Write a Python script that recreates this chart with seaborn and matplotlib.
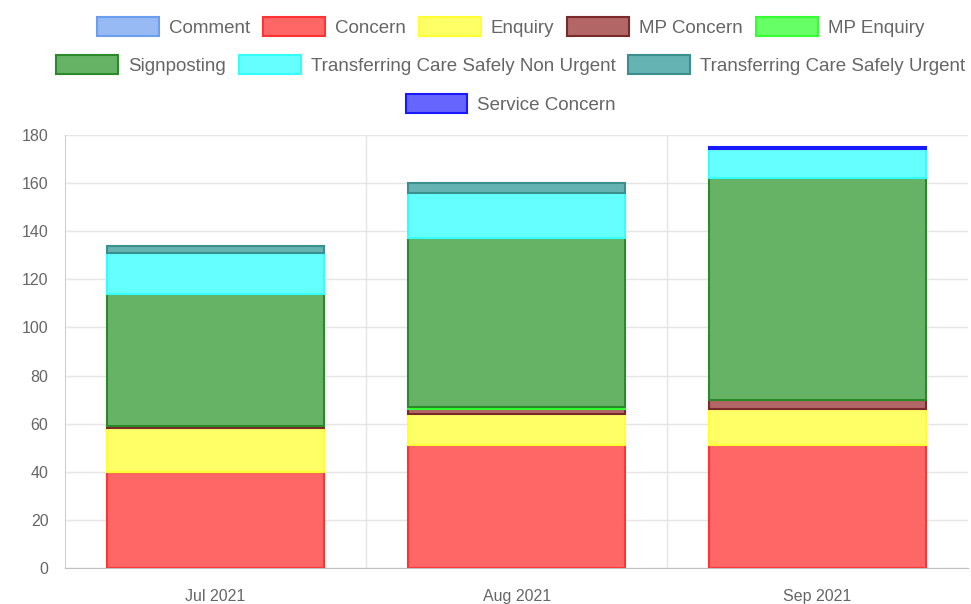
import numpy as np
import pandas as pd
import matplotlib
matplotlib.use('Agg')
import matplotlib.pyplot as plt
import seaborn as sns

months = ['Jul 2021', 'Aug 2021', 'Sep 2021']
series = ['Comment', 'Concern', 'Enquiry', 'MP Concern', 'MP Enquiry',
          'Signposting', 'Transferring Care Safely Non Urgent',
          'Transferring Care Safely Urgent', 'Service Concern']
comment = [0, 0, 0]
concern = [40, 51, 51]
enquiry = [18, 13, 15]
mp_concern = [1, 2, 4]
mp_enquiry = [0, 1, 0]
signposting = [55, 70, 92]
tcs_non_urgent = [17, 19, 12]
tcs_urgent = [3, 4, 0]
service_concern = [0, 0, 1]

fills = ['#97baf5', '#ff6666', '#ffff66', '#b36666', '#66ff66',
         '#66b366', '#66ffff', '#66b3b3', '#6666ff']
edges = ['#6c9ef0', '#ff3333', '#ffff33', '#7a2a2a', '#33ff33',
         '#2a8a2a', '#33ffff', '#3a8f8f', '#1a1aff']

values = [comment, concern, enquiry, mp_concern, mp_enquiry,
          signposting, tcs_non_urgent, tcs_urgent, service_concern]

sns.set_style('white')
plt.rcParams['font.family'] = ['Liberation Sans', 'DejaVu Sans']

fig = plt.figure(figsize=(9.71, 6.04), dpi=100)
ax = fig.add_axes([0.067, 0.0596, 0.930, 0.717])

bottom = np.zeros(len(months))
handles = []
for name, vals, fc, ec in zip(series, values, fills, edges):
    df = pd.DataFrame({'month': months, 'count': vals})
    n_before = len(ax.patches)
    sns.barplot(data=df, x='month', y='count', order=months, color=fc,
                saturation=1, width=0.72, bottom=bottom.copy(),
                edgecolor=ec, linewidth=1.5, ax=ax)
    for p, v in zip(ax.patches[n_before:], vals):
        p.set_facecolor(fc)
        if v == 0:
            p.set_edgecolor('none')
    bottom += np.array(vals)
    handles.append(plt.Rectangle((0, 0), 1, 1, facecolor=fc, edgecolor=ec, linewidth=1.5))

ax.set_ylim(0, 180)
ax.set_xlim(-0.5, 2.5)
ax.set_yticks(range(0, 181, 20))
ax.set_xticks([0.5, 1.5], minor=True)
ax.set_xlabel('')
ax.set_ylabel('')
ax.grid(axis='y', color='#e5e5e5', linewidth=1)
ax.grid(axis='x', which='minor', color='#e5e5e5', linewidth=1)
ax.grid(axis='x', which='major', visible=False)
ax.set_axisbelow(True)
for s in ['top', 'right']:
    ax.spines[s].set_visible(False)
ax.spines['left'].set_color('#d0d0d0')
ax.spines['bottom'].set_color('#c0c0c0')
ax.tick_params(axis='y', colors='#666666', labelsize=11.5, length=8, width=1, color='#e5e5e5', pad=4)
ax.tick_params(axis='x', colors='#666666', labelsize=11.5, length=0, pad=15)
ax.tick_params(axis='x', which='minor', length=8, color='#e5e5e5')

rows = [[0, 1, 2, 3, 4], [5, 6, 7], [8]]
ys = [0.955, 0.892, 0.828]
for idx, y in zip(rows, ys):
    fig.legend([handles[i] for i in idx], [series[i] for i in idx],
               loc='center', bbox_to_anchor=(0.526, y), ncol=len(idx),
               frameon=False, fontsize=13.5, labelcolor='#666666',
               handlelength=3.3, handleheight=1.15, handletextpad=0.53,
               columnspacing=0.7, borderpad=0, borderaxespad=0)

plt.savefig('out.png', dpi=100)
plt.close()
